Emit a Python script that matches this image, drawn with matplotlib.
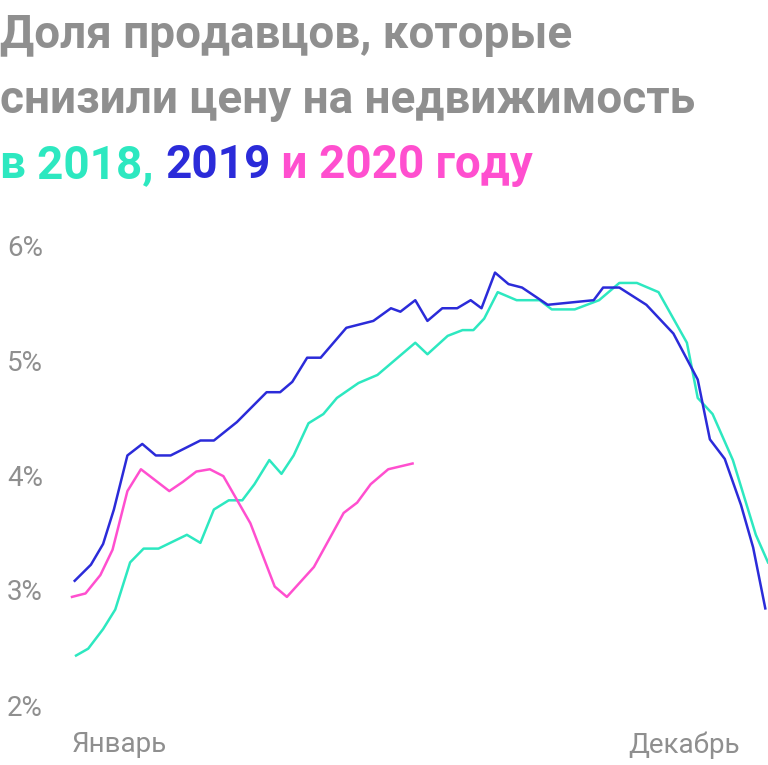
import matplotlib
matplotlib.use('Agg')
import matplotlib.pyplot as plt

# ==================== DATA (week of year, % of sellers) ====================
weeks_2018 = [0.1, 1.0, 2.1, 3.0, 4.1, 5.1, 6.2, 8.3, 9.3, 10.3, 11.4, 12.4, 13.3, 14.4,
              15.3, 16.2, 17.3, 18.4, 19.4, 21.0, 22.4, 25.2, 26.1, 27.6, 28.7, 29.5,
              30.3, 31.3, 32.7, 34.4, 35.3, 37.0, 38.8, 40.3, 41.6, 43.2, 45.3, 46.1,
              47.2, 48.7, 50.4, 51.3]
share_2018 = [2.43, 2.49, 2.66, 2.83, 3.24, 3.36, 3.36, 3.48, 3.41, 3.70, 3.78, 3.78, 3.92, 4.13,
              4.01, 4.17, 4.45, 4.53, 4.67, 4.80, 4.87, 5.15, 5.05, 5.21, 5.26, 5.26,
              5.36, 5.59, 5.52, 5.52, 5.44, 5.44, 5.52, 5.67, 5.67, 5.59, 5.15, 4.67,
              4.53, 4.13, 3.48, 3.24]

weeks_2019 = [0.0, 1.2, 2.1, 2.9, 3.9, 5.0, 6.0, 7.1, 9.3, 10.3, 12.0, 14.2, 15.2, 16.1,
              17.2, 18.2, 20.1, 22.1, 23.4, 24.1, 25.2, 26.1, 27.2, 28.3, 29.3, 30.1,
              31.1, 32.1, 33.1, 35.0, 38.4, 39.1, 40.3, 42.3, 44.3, 46.1, 47.0, 48.1,
              49.3, 50.2, 51.1]
share_2019 = [3.08, 3.22, 3.40, 3.70, 4.17, 4.27, 4.17, 4.17, 4.30, 4.30, 4.46, 4.72, 4.72, 4.81,
              5.02, 5.02, 5.28, 5.34, 5.45, 5.42, 5.52, 5.34, 5.45, 5.45, 5.52, 5.45,
              5.76, 5.66, 5.63, 5.48, 5.52, 5.63, 5.63, 5.48, 5.23, 4.83, 4.31, 4.14,
              3.74, 3.37, 2.84]

weeks_2020 = [-0.2, 0.8, 1.9, 2.8, 3.9, 4.9, 7.0, 8.0, 9.0, 10.0, 11.0, 13.0, 14.8, 15.7,
              17.7, 19.9, 20.9, 21.9, 23.2, 25.0]
share_2020 = [2.94, 2.97, 3.13, 3.35, 3.86, 4.05, 3.86, 3.94, 4.03, 4.05, 3.99, 3.58, 3.03, 2.94,
              3.20, 3.67, 3.76, 3.92, 4.05, 4.10]

y_ticks = [2, 3, 4, 5, 6]
y_labels = ['2%', '3%', '4%', '5%', '6%']
x_labels = ['Январь', 'Декабрь']

# ==================== STYLE ====================
C_2018 = '#2de8c0'
C_2019 = '#2b2bd9'
C_2020 = '#ff4fcf'
GRAY = '#8f8f8f'
plt.rcParams['font.family'] = ['Roboto', 'DejaVu Sans']

fig = plt.figure(figsize=(7.68, 7.65), dpi=100)
ax = fig.add_axes([72 / 768, 1 - 705 / 765, 1 - 72 / 768, (705 - 245) / 765])

ax.plot(weeks_2018, share_2018, color=C_2018, lw=1.8, clip_on=False)
ax.plot(weeks_2019, share_2019, color=C_2019, lw=1.8, clip_on=False)
ax.plot(weeks_2020, share_2020, color=C_2020, lw=1.8, clip_on=False)

ax.set_xlim(-0.2, 51.3)
ax.set_ylim(2, 6)
for s in ax.spines.values():
    s.set_visible(False)
ax.set_yticks(y_ticks)
ax.set_yticklabels(y_labels)
ax.tick_params(axis='y', length=0, pad=21, labelsize=20, labelcolor=GRAY)
ax.set_xticks([])

fig.text(72 / 768, 1 - 745 / 765, x_labels[0], ha='left', va='center', fontsize=20, color=GRAY)
fig.text(740 / 768, 1 - 745 / 765, x_labels[1], ha='right', va='center', fontsize=20, color=GRAY)

# title
tkw = dict(fontsize=33, fontweight='bold', va='center')
fig.text(0.0, 1 - 35 / 765, 'Доля продавцов, которые', color=GRAY, **tkw)
fig.text(0.0, 1 - 100 / 765, 'снизили цену на недвижимость', color=GRAY, **tkw)

renderer = fig.canvas.get_renderer()
parts = [('в ', C_2018), ('2018, ', C_2018), ('2019', C_2019), (' и ', C_2020), ('2020 году', C_2020)]
x = 0.0
for txt, col in parts:
    t = fig.text(x, 1 - 165 / 765, txt, color=col, **tkw)
    bb = t.get_window_extent(renderer=renderer)
    x += bb.width / fig.bbox.width

fig.savefig('out.png', dpi=100)
